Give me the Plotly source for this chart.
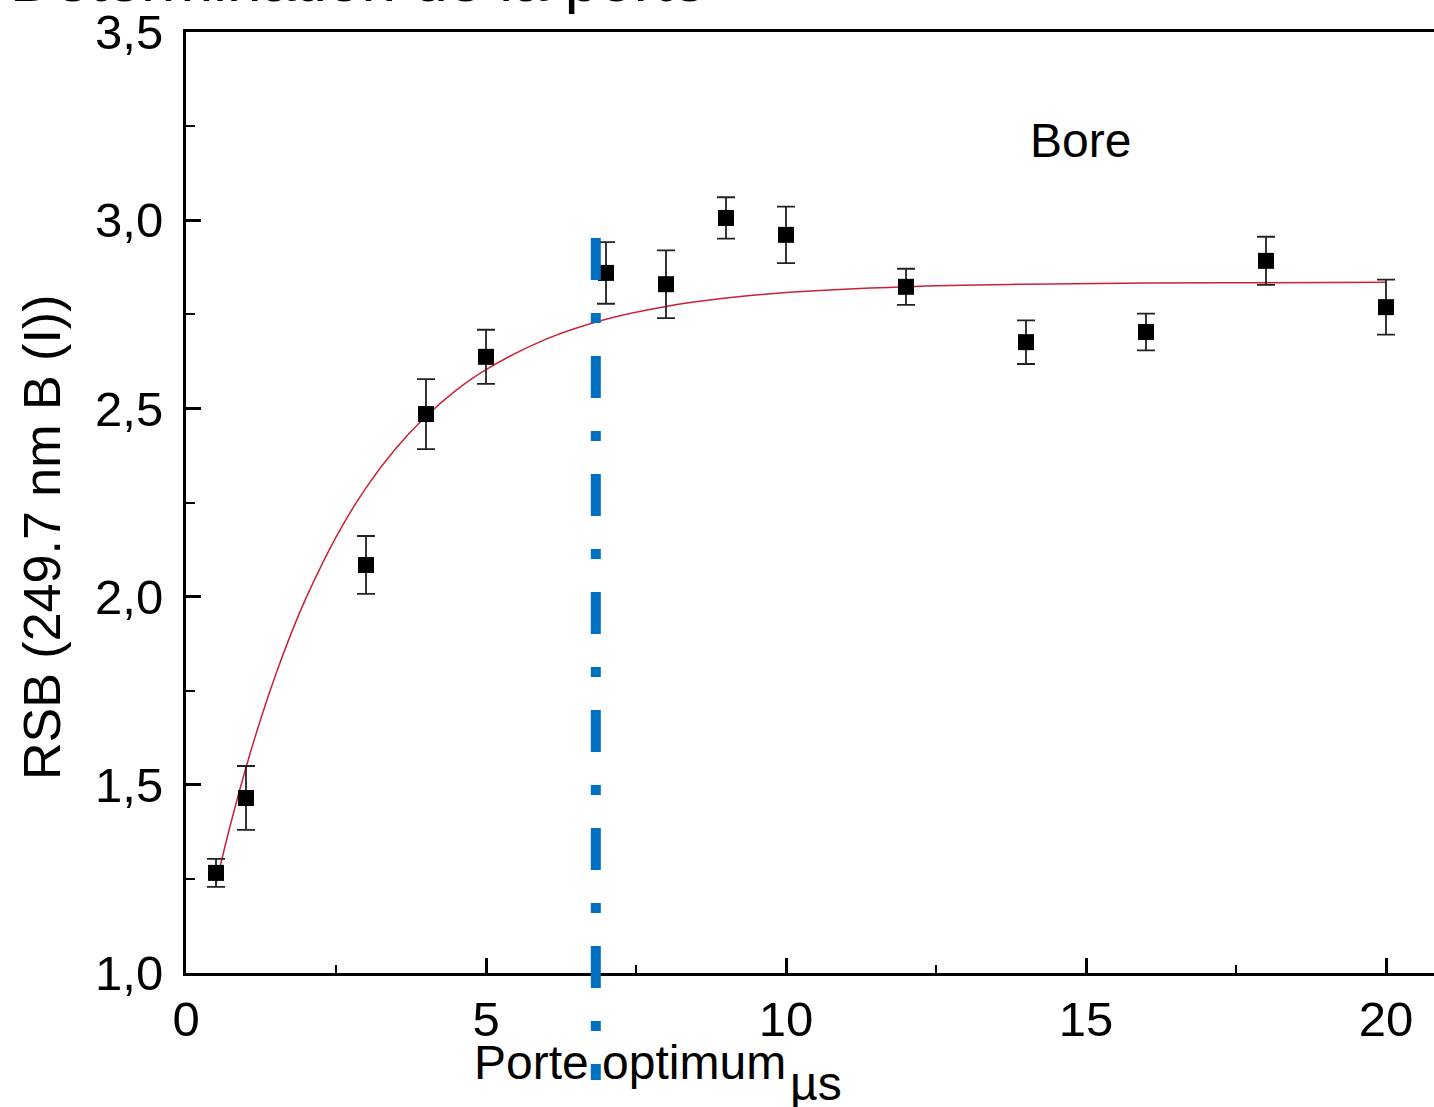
import plotly.graph_objects as go

# ---- data ----
gate_us = [0.5, 1, 3, 4, 5, 7, 8, 9, 10, 12, 14, 16, 18, 20]
rsb = [1.266, 1.465, 2.084, 2.485, 2.637, 2.860, 2.830, 3.006, 2.961, 2.823, 2.676, 2.703, 2.892, 2.769]
rsb_err = [0.037, 0.085, 0.077, 0.093, 0.072, 0.082, 0.090, 0.055, 0.075, 0.048, 0.058, 0.049, 0.064, 0.073]

fit_x = [0.5, 0.75, 1, 1.25, 1.5, 1.75, 2, 2.5, 3, 3.5, 4, 4.5, 5, 6, 7, 8, 9, 10, 12, 14, 16, 18, 20]
fit_y = [1.237, 1.400, 1.546, 1.677, 1.795, 1.901, 1.996, 2.158, 2.289, 2.394, 2.479, 2.548, 2.603,
         2.684, 2.737, 2.771, 2.793, 2.808, 2.8235, 2.830, 2.833, 2.834, 2.835]

porte_optimum = 6.83          # µs, optimum gate
porte_line_y = [2.953, 0.716]  # extent of the dash-dot marker line (data units)

x_ticks = [0, 5, 10, 15, 20]
y_ticks = [1.0, 1.5, 2.0, 2.5, 3.0, 3.5]

title_text = "Détermination de la porte"
y_title = "RSB (249.7 nm B (I))"
x_title = "µs"
element_label = "Bore"
optimum_label = "Porte optimum"

# ---- layout geometry ----
W, H = 1434, 1107
ML, MT, MB, MR = 186, 32, 134, 0
x_range = [0, 20.80]
y_range = [1.0, 3.5]
plot_w = W - ML - MR
plot_h = H - MT - MB

FONT = "Liberation Sans, Arial, sans-serif"


def py(v):
    return (v - y_range[0]) / (y_range[1] - y_range[0])


def px_x(pix):
    return (pix - ML) / plot_w


def px_y(pix):
    return (H - MB - pix) / plot_h


fig = go.Figure()

fig.add_trace(go.Scatter(
    x=fit_x, y=fit_y, mode="lines",
    line=dict(color="#cc2035", width=1.5, shape="spline"),
    hoverinfo="skip", showlegend=False,
))

fig.add_trace(go.Scatter(
    x=gate_us, y=rsb, mode="markers",
    marker=dict(symbol="square", size=16, color="black"),
    error_y=dict(type="data", array=rsb_err, visible=True, color="#222222", thickness=1.8, width=9),
    showlegend=False,
))

fig.add_shape(
    type="line", xref="x", yref="paper",
    x0=porte_optimum, x1=porte_optimum,
    y0=py(porte_line_y[0]), y1=py(porte_line_y[1]),
    line=dict(color="#0070C0", width=10, dash="42px,33px,10px,33px"),
    layer="above",
)

axis_common = dict(
    showline=True, linecolor="black", linewidth=3,
    ticks="inside", tickcolor="black", tickwidth=2.5, ticklen=15,
    showgrid=False, zeroline=False,
    tickfont=dict(family=FONT, size=49, color="black"),
)

fig.update_xaxes(
    range=x_range, tickvals=x_ticks, ticktext=[str(t) for t in x_ticks],
    mirror=True, ticklabelstandoff=1,
    minor=dict(ticks="inside", dtick=2.5, tick0=0, ticklen=8, tickwidth=2, tickcolor="black"),
    **axis_common,
)
fig.update_yaxes(
    range=y_range, tickvals=y_ticks, ticktext=[f"{t:.1f}".replace(".", ",") for t in y_ticks],
    ticklabelstandoff=10,
    minor=dict(ticks="inside", dtick=0.25, tick0=1.0, ticklen=9, tickwidth=2, tickcolor="black"),
    **axis_common,
)

annotations = [
    dict(text=title_text, xref="paper", yref="paper", x=px_x(8), y=px_y(-20),
         xanchor="left", yanchor="middle", showarrow=False,
         font=dict(family=FONT, size=62, color="black")),
    dict(text=y_title, xref="paper", yref="paper", x=px_x(42), y=px_y(538),
         xanchor="center", yanchor="middle", textangle=-90, showarrow=False,
         font=dict(family=FONT, size=52, color="black")),
    dict(text=element_label, xref="paper", yref="paper", x=px_x(1080), y=px_y(141),
         xanchor="center", yanchor="middle", showarrow=False,
         font=dict(family=FONT, size=48, color="black")),
    dict(text=optimum_label, xref="paper", yref="paper", x=px_x(472), y=px_y(1062),
         xanchor="left", yanchor="middle", showarrow=False,
         font=dict(family=FONT, size=48, color="black")),
    dict(text=x_title, xref="paper", yref="paper", x=px_x(788), y=px_y(1083),
         xanchor="left", yanchor="middle", showarrow=False,
         font=dict(family=FONT, size=48, color="black")),
]

fig.update_layout(
    width=W, height=H,
    margin=dict(l=ML, r=MR, t=MT, b=MB, pad=0),
    paper_bgcolor="white", plot_bgcolor="white",
    separators=",.",
    annotations=annotations,
    showlegend=False,
)

fig.write_html("out.html")
